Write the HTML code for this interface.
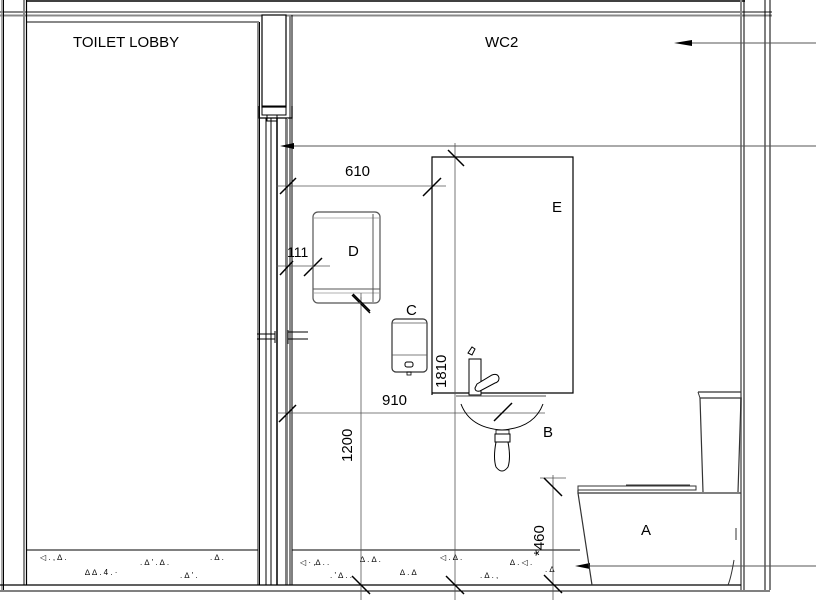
<!DOCTYPE html>
<html><head><meta charset="utf-8"><style>
html,body{margin:0;padding:0;background:#fff;}
svg{display:block;}
text{font-family:"Liberation Sans",sans-serif;fill:#000;}
</style></head><body>
<svg width="816" height="600" viewBox="0 0 816 600" xmlns="http://www.w3.org/2000/svg">
<rect width="816" height="600" fill="#fff"/>
<line x1="26" y1="1" x2="745" y2="1" stroke="#000" stroke-width="1.5"/>
<line x1="0" y1="12" x2="772" y2="12" stroke="#888" stroke-width="2"/>
<line x1="0" y1="15.5" x2="772" y2="15.5" stroke="#888" stroke-width="2"/>
<line x1="26" y1="22" x2="259" y2="22" stroke="#888" stroke-width="2"/>
<line x1="2" y1="0" x2="2" y2="590" stroke="#888" stroke-width="1.5"/>
<line x1="3.5" y1="0" x2="3.5" y2="590" stroke="#000" stroke-width="1"/>
<line x1="24" y1="0" x2="24" y2="585" stroke="#888" stroke-width="2"/>
<line x1="26.5" y1="0" x2="26.5" y2="585" stroke="#000" stroke-width="1.2"/>
<line x1="741" y1="0" x2="741" y2="590" stroke="#888" stroke-width="2"/>
<line x1="744" y1="0" x2="744" y2="590" stroke="#000" stroke-width="1"/>
<line x1="765" y1="0" x2="765" y2="590" stroke="#000" stroke-width="1"/>
<line x1="770" y1="0" x2="770" y2="590" stroke="#000" stroke-width="1"/>
<rect x="262" y="15" width="24" height="92" fill="#fff" stroke="#000" stroke-width="1.2"/>
<line x1="258" y1="22" x2="258" y2="585" stroke="#888" stroke-width="2"/>
<line x1="259.5" y1="22" x2="259.5" y2="585" stroke="#000" stroke-width="1"/>
<line x1="290" y1="15" x2="290" y2="585" stroke="#888" stroke-width="2"/>
<line x1="292" y1="15" x2="292" y2="585" stroke="#000" stroke-width="1"/>
<path d="M259 106 v12 h33 v-12" fill="none" stroke="#000" stroke-width="1.3"/>
<rect x="262" y="106" width="24" height="9" fill="none" stroke="#000" stroke-width="1"/>
<rect x="267" y="115" width="10" height="6" fill="none" stroke="#000" stroke-width="1"/>
<line x1="266" y1="118" x2="266" y2="585" stroke="#000" stroke-width="1"/>
<line x1="271" y1="118" x2="271" y2="585" stroke="#000" stroke-width="1"/>
<line x1="277" y1="118" x2="277" y2="585" stroke="#000" stroke-width="1.5"/>
<line x1="286" y1="118" x2="286" y2="585" stroke="#000" stroke-width="1"/>
<line x1="287.5" y1="118" x2="287.5" y2="585" stroke="#888" stroke-width="1"/>
<path d="M257 334 h18 M257 339 h18 M275 331 v12 M288 332 h20 M288 339 h20 M288 330 v14" fill="none" stroke="#000" stroke-width="1"/>
<line x1="26" y1="550" x2="258" y2="550" stroke="#000" stroke-width="1"/>
<line x1="292" y1="550" x2="580" y2="550" stroke="#000" stroke-width="1"/>
<line x1="0" y1="585" x2="741" y2="585" stroke="#000" stroke-width="1.2"/>
<line x1="0" y1="591" x2="770" y2="591" stroke="#000" stroke-width="1"/>
<g fill="#999" font-size="8">
<text x="40" y="560">◁ .  ,  ∆ .</text><text x="85" y="575">∆ ∆ .   4 .  ·</text><text x="140" y="565">. ∆ ' .  ∆  .</text><text x="180" y="578">.  ∆ ' .</text><text x="210" y="560">. ∆ .</text>
<text x="300" y="565">◁ ·  ,∆ . .</text><text x="360" y="562">∆  .  ∆ .</text><text x="330" y="578">. ' ∆ .  .</text><text x="400" y="575">∆ . ∆</text><text x="440" y="560">◁ .  ∆ .</text><text x="480" y="578">. ∆ . ,</text><text x="510" y="565">∆ .  ◁ .</text><text x="545" y="572">. ∆</text>
</g>
<line x1="690" y1="43" x2="816" y2="43" stroke="#555" stroke-width="1"/>
<path d="M674 43 L692 40 L692 46 Z" fill="#000"/>
<line x1="292" y1="146" x2="816" y2="146" stroke="#555" stroke-width="1"/>
<path d="M280 146 L294 143 L294 149 Z" fill="#000"/>
<line x1="585" y1="566" x2="816" y2="566" stroke="#555" stroke-width="1"/>
<path d="M575 566 L590 563 L590 569 Z" fill="#000"/>
<text x="73" y="47" font-size="15">TOILET LOBBY</text>
<text x="485" y="47" font-size="15">WC2</text>
<path d="M432 395 V157 H573 V393 H432" fill="none" stroke="#000" stroke-width="1.2"/>
<line x1="455" y1="143" x2="455" y2="600" stroke="#555" stroke-width="0.8"/>
<line x1="448" y1="150" x2="464" y2="166" stroke="#000" stroke-width="1.5"/>
<text x="552" y="212" font-size="15">E</text>
<line x1="276" y1="186" x2="446" y2="186" stroke="#555" stroke-width="0.8"/>
<line x1="280" y1="194" x2="296" y2="178" stroke="#000" stroke-width="1.5"/>
<line x1="423" y1="196" x2="441" y2="178" stroke="#000" stroke-width="1.5"/>
<text x="345" y="176" font-size="15">610</text>
<line x1="276" y1="266" x2="330" y2="266" stroke="#555" stroke-width="0.8"/>
<line x1="280" y1="275" x2="293" y2="261" stroke="#000" stroke-width="1.5"/>
<line x1="304" y1="276" x2="322" y2="258" stroke="#000" stroke-width="1.5"/>
<text x="287" y="257" font-size="14">111</text>
<line x1="276" y1="413" x2="545" y2="413" stroke="#555" stroke-width="0.8"/>
<line x1="279" y1="422" x2="296" y2="405" stroke="#000" stroke-width="1.5"/>
<line x1="494" y1="421" x2="512" y2="403" stroke="#000" stroke-width="1.5"/>
<text x="382" y="405" font-size="15">910</text>
<line x1="361" y1="297" x2="361" y2="600" stroke="#555" stroke-width="0.8"/>
<line x1="352" y1="295" x2="370" y2="313" stroke="#000" stroke-width="1.5"/>
<line x1="352" y1="576" x2="370" y2="594" stroke="#000" stroke-width="1.5"/>
<line x1="446" y1="576" x2="464" y2="594" stroke="#000" stroke-width="1.5"/>
<text transform="translate(352,462) rotate(-90)" font-size="15">1200</text>
<text transform="translate(446,388) rotate(-90)" font-size="15">1810</text>
<line x1="553" y1="475" x2="553" y2="600" stroke="#555" stroke-width="0.8"/>
<line x1="540" y1="478" x2="566" y2="478" stroke="#555" stroke-width="0.8"/>
<line x1="544" y1="478" x2="562" y2="496" stroke="#000" stroke-width="1.5"/>
<line x1="544" y1="575" x2="562" y2="593" stroke="#000" stroke-width="1.5"/>
<text transform="translate(544,556) rotate(-90)" font-size="15">*460</text>
<rect x="313" y="212" width="67" height="91" rx="5" fill="none" stroke="#555" stroke-width="1.2"/>
<line x1="313" y1="218" x2="380" y2="218" stroke="#999" stroke-width="0.8"/>
<line x1="313" y1="289" x2="380" y2="289" stroke="#555" stroke-width="1"/>
<line x1="313" y1="293" x2="380" y2="293" stroke="#999" stroke-width="0.8"/>
<line x1="373" y1="214" x2="373" y2="302" stroke="#555" stroke-width="1"/>
<line x1="361" y1="293" x2="361" y2="300" stroke="#555" stroke-width="0.8"/>
<line x1="353" y1="294" x2="370" y2="311" stroke="#000" stroke-width="1.5"/>
<text x="348" y="256" font-size="15">D</text>
<rect x="392" y="319" width="35" height="53" rx="4" fill="none" stroke="#333" stroke-width="1.2"/>
<line x1="392" y1="323" x2="427" y2="323" stroke="#555" stroke-width="0.8"/>
<line x1="392" y1="355" x2="427" y2="355" stroke="#555" stroke-width="0.8"/>
<rect x="405" y="362" width="8" height="5" rx="2" fill="none" stroke="#000" stroke-width="1"/>
<rect x="407" y="372" width="4" height="3" fill="none" stroke="#000" stroke-width="0.8"/>
<text x="406" y="315" font-size="15">C</text>
<line x1="456" y1="396" x2="546" y2="396" stroke="#888" stroke-width="1.5"/>
<path d="M461 404 Q470 428 502 430 Q534 428 543 404" fill="none" stroke="#000" stroke-width="1"/>
<rect x="469" y="359" width="12" height="36" fill="#fff" stroke="#000" stroke-width="1"/>
<path d="M468 353 l4 -6 l3 2 l-3 6 z" fill="#fff" stroke="#000" stroke-width="1"/>
<path d="M477 384 l15 -9 q6 -2 7 3 q0 4 -4 5 l-15 8 q-5 1 -5 -3 z" fill="#fff" stroke="#000" stroke-width="1"/>
<rect x="496" y="430" width="13" height="4" fill="none" stroke="#000" stroke-width="0.8"/>
<rect x="495" y="434" width="15" height="8" fill="none" stroke="#000" stroke-width="1"/>
<path d="M496 442 q-3 16 0 25 q6 8 12 0 q3 -9 0 -25 z" fill="none" stroke="#000" stroke-width="1"/>
<text x="543" y="437" font-size="15">B</text>
<path d="M698 392 H741 M700 398 H741 L738 492 M700 398 L703 492" fill="none" stroke="#333" stroke-width="1.2"/>
<path d="M698 392 L700 398" stroke="#333" stroke-width="1"/>
<rect x="578" y="486" width="118" height="4" fill="none" stroke="#333" stroke-width="1"/>
<line x1="626" y1="485" x2="690" y2="485" stroke="#333" stroke-width="1"/>
<path d="M578 490 V493 H741" fill="none" stroke="#333" stroke-width="1.2"/>
<path d="M578 493 L592 585" fill="none" stroke="#333" stroke-width="1.2"/>
<path d="M734 560 Q731 578 728 585" fill="none" stroke="#333" stroke-width="1"/>
<line x1="736" y1="528" x2="736" y2="540" stroke="#333" stroke-width="1"/>
<text x="641" y="535" font-size="15">A</text>
</svg>
</body></html>
